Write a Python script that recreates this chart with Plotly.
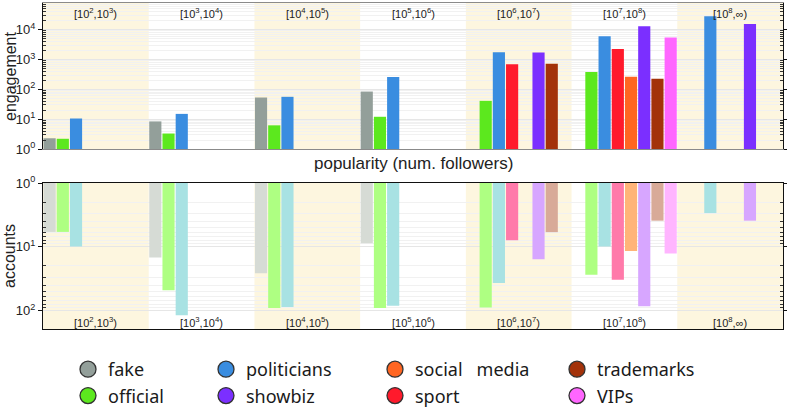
import plotly.graph_objects as go

# ---------------- data ----------------
bins = ["[10<sup>2</sup>,10<sup>3</sup>)", "[10<sup>3</sup>,10<sup>4</sup>)",
        "[10<sup>4</sup>,10<sup>5</sup>)", "[10<sup>5</sup>,10<sup>6</sup>)",
        "[10<sup>6</sup>,10<sup>7</sup>)", "[10<sup>7</sup>,10<sup>8</sup>)",
        "[10<sup>8</sup>,∞)"]
bin_idx = [0, 1, 2, 3, 4, 5, 6]

# plotting (slot) order inside each bin
categories = ["fake", "official", "politicians", "sport", "social media",
              "showbiz", "trademarks", "VIPs"]

engagement_fake = [1.29, 7.4, 52, 83, None, None, None]
engagement_official = [1.2, 2.3, 5.2, 11, 40, 375, None]
engagement_politicians = [9.5, 14, 55, 255, 1750, 6000, 28000]
engagement_sport = [None, None, None, None, 690, 2250, None]
engagement_social = [None, None, None, None, None, 262, None]
engagement_showbiz = [None, None, None, None, 1700, 12900, 15500]
engagement_trademarks = [None, None, None, None, 710, 224, None]
engagement_vips = [None, None, None, None, None, 5400, None]

accounts_fake = [4.85, 13.7, 25, 7.8, None, None, None]
accounts_official = [4.85, 47, 90, 90, 89, 26.5, None]
accounts_politicians = [8.9, 118, 87, 83, 36, 8.9, 1.96]
accounts_sport = [None, None, None, None, 6.9, 32, None]
accounts_social = [None, None, None, None, None, 10.7, None]
accounts_showbiz = [None, None, None, None, 14.7, 85, 2.9]
accounts_trademarks = [None, None, None, None, 4.9, 2.9, None]
accounts_vips = [None, None, None, None, None, 11.8, None]

engagement = [engagement_fake, engagement_official, engagement_politicians,
              engagement_sport, engagement_social, engagement_showbiz,
              engagement_trademarks, engagement_vips]
accounts = [accounts_fake, accounts_official, accounts_politicians,
            accounts_sport, accounts_social, accounts_showbiz,
            accounts_trademarks, accounts_vips]

dark_colors = ["#939F9A", "#5CE81E", "#3A8DE0", "#FF1A2C", "#FF6622",
               "#7B2FFF", "#A3320A", "#FF66FF"]
light_colors = ["#D6DBD5", "#AEFF82", "#A8E2E3", "#FF7AAA", "#FFB478",
                "#D7A6FF", "#D8AA98", "#FFB5FF"]

# legend columns (column-major like the reference)
legend_columns = [["fake", "official"], ["politicians", "showbiz"],
                  ["social media", "sport"], ["trademarks", "VIPs"]]
legend_labels = {"social media": "social\u00a0\u00a0 media"}

engagement_ticks = [1, 10, 100, 1000, 10000]
engagement_ticktext = ["10<sup>0</sup>", "10<sup>1</sup>", "10<sup>2</sup>",
                       "10<sup>3</sup>", "10<sup>4</sup>"]
accounts_ticks = [1, 10, 100]
accounts_ticktext = ["10<sup>0</sup>", "10<sup>1</sup>", "10<sup>2</sup>"]

# ---------------- figure ----------------
W, H = 787, 411
ML, MR, MT, MB = 43, 4, 3, 82
pw, ph = W - ML - MR, H - MT - MB


def py2paper(py):
    return (H - MB - py) / ph


def px2paper(px):
    return (px - ML) / pw


top_dom = [py2paper(149), 1.0]
bot_dom = [0.0, py2paper(183)]

fig = go.Figure()
for k, cat in enumerate(categories):
    fig.add_trace(go.Bar(x=bin_idx, y=engagement[k], base=1, name=cat,
                         marker=dict(color=dark_colors[k], line=dict(width=0)),
                         xaxis="x", yaxis="y", showlegend=False))
for k, cat in enumerate(categories):
    fig.add_trace(go.Bar(x=bin_idx, y=accounts[k], base=1, name=cat,
                         marker=dict(color=light_colors[k], line=dict(width=0)),
                         xaxis="x2", yaxis="y2", showlegend=False))

# legend entries
legend_names = ["legend", "legend2", "legend3", "legend4"]
for c, col in enumerate(legend_columns):
    for cat in col:
        k = categories.index(cat)
        fig.add_trace(go.Scatter(x=[None], y=[None], mode="markers",
                                 name=legend_labels.get(cat, cat),
                                 marker=dict(symbol="circle", size=16,
                                             color=dark_colors[k],
                                             line=dict(width=1.3, color="#333")),
                                 xaxis="x", yaxis="y", legend=legend_names[c]))

minor_top = [m * 10 ** e for e in range(0, 5) for m in range(2, 10)]
minor_bot = [m * 10 ** e for e in range(0, 3) for m in range(2, 10)]

yaxis_common = dict(type="log", showline=True, linecolor="#111", linewidth=1,
                    mirror="allticks", ticks="outside", ticklen=4,
                    tickcolor="#111", tickmode="array",
                    tickfont=dict(family="Liberation Sans", size=13, color="#222"),
                    showgrid=True, gridcolor="#E6E6E6", gridwidth=1,
                    zeroline=False)

fig.update_layout(
    width=W, height=H,
    margin=dict(l=ML, r=MR, t=MT, b=MB, autoexpand=False),
    paper_bgcolor="white", plot_bgcolor="white",
    barmode="group", bargap=0.0, bargroupgap=0.08,
    xaxis=dict(domain=[0, 1], anchor="y", range=[-0.5, 6.5],
               showticklabels=False, ticks="", showgrid=False,
               showline=True, linecolor="#8A8A8A", mirror=True, zeroline=False),
    xaxis2=dict(domain=[0, 1], anchor="y2", range=[-0.5, 6.5],
                showticklabels=False, ticks="", showgrid=False,
                showline=True, linecolor="#111", mirror=True, zeroline=False),
    yaxis=dict(domain=top_dom, anchor="x", range=[0, 4.89],
               tickvals=engagement_ticks, ticktext=engagement_ticktext,
               minor=dict(tickmode="array", tickvals=minor_top, ticks="inside",
                          ticklen=3, tickcolor="#333", showgrid=True,
                          gridcolor="#F1F1F1", gridwidth=1),
               **yaxis_common),
    yaxis2=dict(domain=bot_dom, anchor="x2", range=[2.29, 0],
                tickvals=accounts_ticks, ticktext=accounts_ticktext,
                minor=dict(tickmode="array", tickvals=minor_bot, ticks="inside",
                           ticklen=3, tickcolor="#333", showgrid=True,
                           gridcolor="#F1F1F1", gridwidth=1),
                **yaxis_common),
)

# alternating bands
for i in bin_idx:
    if i % 2 == 0:
        for xr, yr in (("x", "y domain"), ("x2", "y2 domain")):
            fig.add_shape(type="rect", xref=xr, yref=yr, x0=i - 0.5, x1=i + 0.5,
                          y0=0, y1=1, fillcolor="#FDF6DF", line=dict(width=0),
                          layer="below")

# bin labels
for i, lab in zip(bin_idx, bins):
    fig.add_annotation(x=i, xref="x", y=(149 - 13) / 146, yref="y domain",
                       text=lab, showarrow=False, xanchor="center", yanchor="middle",
                       font=dict(family="Liberation Sans", size=11, color="#222"))
    fig.add_annotation(x=i, xref="x2", y=(329 - 322) / 146, yref="y2 domain",
                       text=lab, showarrow=False, xanchor="center", yanchor="middle",
                       font=dict(family="Liberation Sans", size=11, color="#222"))

# titles
fig.add_annotation(x=px2paper(10), xref="paper", y=0.5, yref="y domain",
                   text="engagement", textangle=-90, showarrow=False,
                   xanchor="center", yanchor="middle",
                   font=dict(family="Liberation Sans", size=16, color="#222"))
fig.add_annotation(x=px2paper(10), xref="paper", y=0.5, yref="y2 domain",
                   text="accounts", textangle=-90, showarrow=False,
                   xanchor="center", yanchor="middle",
                   font=dict(family="Liberation Sans", size=16, color="#222"))
fig.add_annotation(x=0.5, xref="paper", y=py2paper(163), yref="paper",
                   text="popularity (num. followers)", showarrow=False,
                   xanchor="center", yanchor="middle",
                   font=dict(family="Liberation Sans", size=17, color="#222"))

legend_x_px = [68, 206, 375, 557]
legend_style = dict(xanchor="left", yanchor="top", orientation="v",
                    y=py2paper(351), bgcolor="rgba(0,0,0,0)", borderwidth=0,
                    tracegroupgap=0, itemclick=False, itemdoubleclick=False,
                    font=dict(family="Noto Sans", size=18, color="#1a1a1a"))
fig.update_layout(
    legend=dict(x=px2paper(legend_x_px[0]), **legend_style),
    legend2=dict(x=px2paper(legend_x_px[1]), **legend_style),
    legend3=dict(x=px2paper(legend_x_px[2]), **legend_style),
    legend4=dict(x=px2paper(legend_x_px[3]), **legend_style),
)

fig.write_html("out.html",
               config={"displayModeBar": False},
               post_script="document.body.style.margin='0';"
                           "document.body.style.padding='0';")
